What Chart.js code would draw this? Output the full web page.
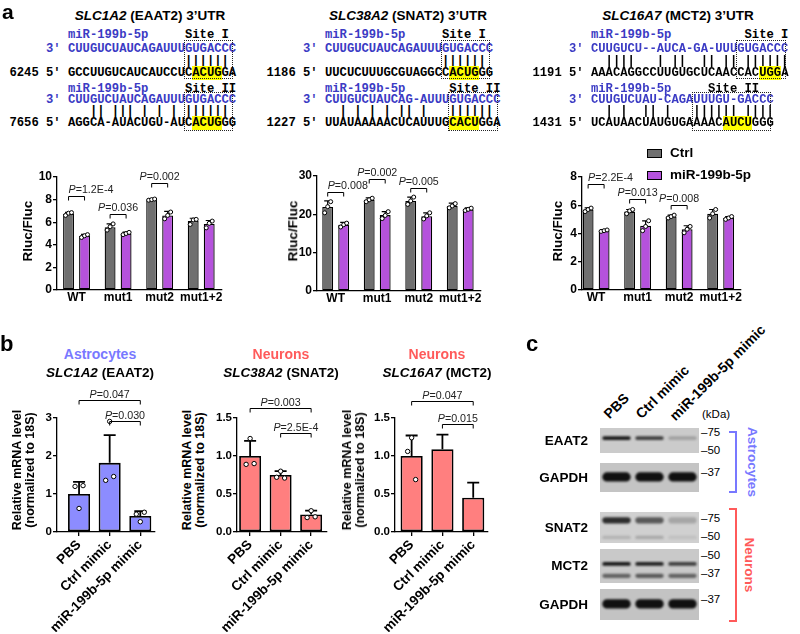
<!DOCTYPE html>
<html>
<head>
<meta charset="utf-8">
<script src="https://cdn.jsdelivr.net/npm/chart.js@4.4.0/dist/chart.umd.min.js"></script>
<style>
body { margin: 0; background: #fff; }
#page { position: relative; width: 800px; height: 634px; overflow: hidden; font-family: "Liberation Sans", Arial, sans-serif; color: #000; }
.t { position: absolute; white-space: nowrap; line-height: 1; }
.seq { position: absolute; white-space: pre; font-family: "Liberation Mono", monospace; font-size: 12.2px; font-weight: bold; line-height: 12px; }
.blue { color: #3b3bc4; }
.hl { background: #ffff00; }
.box { position: absolute; border: 1px dotted #222; box-sizing: border-box; }
canvas { position: absolute; }
</style>
</head>
<body>
<div id="page"></div>
<script>
// ---- données panneau a : luciférase Rluc/Fluc ----
const LUC_GROUPS = ['WT', 'mut1', 'mut2', 'mut1+2'];
const LUC_SERIES = ['Ctrl', 'miR-199b-5p'];

const EAAT2_CTRL = [6.75, 5.55, 8.0, 6.1];
const EAAT2_CTRL_SD = [0.12, 0.3, 0.08, 0.25];
const EAAT2_CTRL_DOTS = [[6.6, 6.8, 6.85], [5.3, 5.6, 5.85], [7.95, 8.0, 8.05], [5.8, 6.2, 6.25]];
const EAAT2_MIR = [4.8, 5.0, 6.6, 5.85];
const EAAT2_MIR_SD = [0.12, 0.12, 0.35, 0.3];
const EAAT2_MIR_DOTS = [[4.65, 4.8, 4.9], [4.9, 5.0, 5.1], [6.3, 6.6, 6.9], [5.5, 5.9, 6.1]];
const EAAT2_P = [['1.2E-4', 0, 8.3], ['0.036', 1, 6.7], ['0.002', 2, 9.47]];

const SNAT2_CTRL = [21.9, 23.8, 23.5, 22.2];
const SNAT2_CTRL_SD = [1.6, 0.5, 1.0, 0.7];
const SNAT2_CTRL_DOTS = [[20.4, 22.0, 23.3], [23.3, 23.8, 24.2], [22.6, 23.5, 24.5], [21.7, 22.2, 22.8]];
const SNAT2_MIR = [17.3, 19.8, 19.5, 21.3];
const SNAT2_MIR_SD = [0.6, 0.9, 0.9, 0.4];
const SNAT2_MIR_DOTS = [[16.7, 17.3, 17.7], [18.9, 19.7, 20.7], [18.8, 19.6, 20.4], [21.0, 21.3, 21.6]];
const SNAT2_P = [['0.008', 0, 25.8], ['0.002', 1, 29.3], ['0.005', 2, 26.9]];

const MCT2_CTRL = [5.7, 5.55, 5.2, 5.4];
const MCT2_CTRL_SD = [0.12, 0.15, 0.1, 0.3];
const MCT2_CTRL_DOTS = [[5.55, 5.7, 5.8], [5.4, 5.6, 5.7], [5.1, 5.2, 5.3], [5.1, 5.4, 5.7]];
const MCT2_MIR = [4.2, 4.55, 4.3, 5.1];
const MCT2_MIR_SD = [0.08, 0.35, 0.25, 0.1];
const MCT2_MIR_DOTS = [[4.15, 4.2, 4.25], [4.2, 4.5, 4.9], [4.05, 4.3, 4.5], [5.0, 5.1, 5.2]];
const MCT2_P = [['2.2E-4', 0, 7.53], ['0.013', 1, 6.47], ['0.008', 2, 6.0]];

// ---- données panneau b : qPCR ----
const QPCR_GROUPS = ['PBS', 'Ctrl mimic', 'miR-199b-5p mimic'];
const Q_EAAT2 = [1.0, 1.82, 0.42];
const Q_EAAT2_SD = [0.32, 0.73, 0.13];
const Q_EAAT2_DOTS = [[0.62, 1.2, 1.22], [2.91, 1.36, 1.46], [0.27, 0.47, 0.52]];
const Q_EAAT2_P = [['0.047', 0, 2, 3.48], ['0.030', 1, 2, 2.91]];
const Q_SNAT2 = [1.0, 0.75, 0.23];
const Q_SNAT2_SD = [0.2, 0.05, 0.05];
const Q_SNAT2_DOTS = [[1.23, 0.89, 0.9], [0.8, 0.72, 0.71], [0.28, 0.19, 0.2]];
const Q_SNAT2_P = [['0.003', 0, 2, 1.627], ['2.5E-4', 1, 2, 1.3]];
const Q_MCT2 = [1.0, 1.09, 0.45];
const Q_MCT2_SD = [0.27, 0.19, 0.2];
const Q_MCT2_DOTS = [[1.24, 1.06, 0.69], [], []];
const Q_MCT2_P = [['0.047', 0, 2, 1.72], ['0.015', 1, 2, 1.427]];

// ---- panneau c : western blot (position verticale en fraction de la bande, intensité par piste) ----
const BLOT_LANES = ['PBS', 'Ctrl mimic', 'miR-199b-5p mimic'];
const BLOT_EAAT2 = [[0.4, 0.15, [0.95, 0.75, 0.22]]];
const BLOT_GAPDH_A = [[0.48, 0.32, [1, 1, 1]]];
const BLOT_SNAT2 = [[0.27, 0.2, [0.85, 0.62, 0.22]], [0.82, 0.1, [0.15, 0.2, 0.08]]];
const BLOT_MCT2 = [[0.44, 0.11, [0.95, 0.9, 0.75]], [0.79, 0.12, [0.55, 0.6, 0.55]]];
const BLOT_GAPDH_N = [[0.48, 0.3, [1, 1, 1]]];

// ---- séquences (panneau a, en haut) ----
const SEQ_GENES = [
  { gene: 'SLC1A2', prot: 'EAAT2', left: 68, titleX: 150, sites: [
    { name: 'Site I', nameAt: 16, pos: '6245', mir: 'CUUGUCUAUCAGAUUUGUGACCC', pairs: '                ||||||', target: 'GCCUUGUCAUCAUCCUCACUGGA', seed: [17, 21], box: [16, 22] },
    { name: 'Site II', nameAt: 16, pos: '7656', mir: 'CUUGUCUAUCAGAUUUGUGACCC', pairs: '   || ||| | | | ||||||', target: 'AGGCA-AUACUGU-AUCACUGGG', seed: [17, 21], box: [16, 22] } ] },
  { gene: 'SLC38A2', prot: 'SNAT2', left: 325, titleX: 408, sites: [
    { name: 'Site I', nameAt: 16, pos: '1186', mir: 'CUUGUCUAUCAGAUUUGUGACCC', pairs: '                ||||||', target: 'UUCUCUUUGCGUAGGCCACUGGG', seed: [17, 21], box: [16, 22] },
    { name: 'Site II', nameAt: 17, pos: '1227', mir: 'CUUGUCUAUCAG-AUUUGUGACCC', pairs: '  | | | | || |   ||||||', target: 'UUAUAAAAACUCAUUUGCACUGGA', seed: [17, 21], box: [17, 23] } ] },
  { gene: 'SLC16A7', prot: 'MCT2', left: 591, titleX: 678, sites: [
    { name: 'Site I', nameAt: 21, pos: '1191', mir: 'CUUGUCU--AUCA-GA-UUUGUGACCC', pairs: '  ||||   | ||  || || ||||||', target: 'AAACAGGCCUUGUGCUCAACCACUGGA', seed: [23, 26], box: [20, 26] },
    { name: 'Site II', nameAt: 16, pos: '1431', mir: 'CUUGUCUAU-CAGAUUUGU-GACCC', pairs: '  | |  || |   |||||| ||||', target: 'UCAUAACUAUGUGAAAACAUCUGGG', seed: [18, 22], box: [14, 24] } ] }
];

const GRAY = '#6f6f6f';
const PURPLE = '#b552dc';
const ASTRO = '#8c8cff';
const NEURON = '#ff7f7f';
const ASTRO_TXT = '#7878ff';
const NEURON_TXT = '#ff5a5a';

const page = document.getElementById('page');
Chart.defaults.font.family = '"Liberation Sans", Arial, sans-serif';
Chart.defaults.color = '#000';

function txt(html, x, y, o = {}) {
  const d = document.createElement('div');
  d.className = 't';
  d.innerHTML = html;
  d.style.left = x + 'px';
  d.style.top = y + 'px';
  d.style.fontSize = (o.size || 13) + 'px';
  d.style.fontWeight = o.weight || 'bold';
  if (o.color) d.style.color = o.color;
  const tx = o.anchor === 'l' ? '0' : o.anchor === 'r' ? '-100%' : '-50%';
  d.style.transform = `translate(${tx},-50%)` + (o.rot ? ` rotate(${o.rot}deg)` : '');
  if (o.align) d.style.textAlign = o.align;
  if (o.lh) d.style.lineHeight = o.lh;
  page.appendChild(d);
  return d;
}

function makeCanvas(left, top, w, h) {
  const c = document.createElement('canvas');
  c.width = w; c.height = h;
  c.style.left = left + 'px'; c.style.top = top + 'px';
  c.style.width = w + 'px'; c.style.height = h + 'px';
  page.appendChild(c);
  return c;
}

// barres d'erreur, points individuels et crochets de P
const marksPlugin = {
  id: 'marks',
  afterDraw(chart, args, opts) {
    const ctx = chart.ctx, ys = chart.scales.y;
    ctx.save();
    chart.data.datasets.forEach((ds, di) => {
      chart.getDatasetMeta(di).data.forEach((bar, i) => {
        const mean = ds.data[i].y;
        const yTop = ys.getPixelForValue(mean + ds.sd[i]);
        const yMean = ys.getPixelForValue(mean);
        ctx.strokeStyle = '#000';
        ctx.lineWidth = opts.errWidth;
        ctx.beginPath();
        ctx.moveTo(bar.x, yMean); ctx.lineTo(bar.x, yTop);
        ctx.moveTo(bar.x - opts.cap, yTop); ctx.lineTo(bar.x + opts.cap, yTop);
        ctx.stroke();
        (ds.dots[i] || []).forEach((v, k) => {
          ctx.beginPath();
          ctx.arc(bar.x + opts.jitter[k % opts.jitter.length], ys.getPixelForValue(v), opts.r, 0, Math.PI * 2);
          ctx.fillStyle = '#fff'; ctx.fill();
          ctx.lineWidth = 1; ctx.stroke();
        });
      });
    });
    (opts.brackets || []).forEach(b => {
      const x0 = chart.getDatasetMeta(b.a[0]).data[b.a[1]].x - opts.spread;
      const x1 = chart.getDatasetMeta(b.b[0]).data[b.b[1]].x + opts.spread;
      const y = Math.round(ys.getPixelForValue(b.y)) + 0.5;
      ctx.strokeStyle = '#000'; ctx.lineWidth = 1;
      ctx.beginPath();
      ctx.moveTo(x0, y + opts.drop); ctx.lineTo(x0, y); ctx.lineTo(x1, y); ctx.lineTo(x1, y + opts.drop);
      ctx.stroke();
      const fi = 'italic 11.5px "Liberation Sans"', fn = '11.5px "Liberation Sans"';
      ctx.font = fi; const wP = ctx.measureText('P').width;
      ctx.font = fn; const wR = ctx.measureText('=' + b.p).width;
      const total = (wP + wR) * opts.squeeze;
      const sx = b.left ? x0 : (x0 + x1) / 2 - total / 2;
      ctx.save();
      ctx.translate(sx, y - opts.lift);
      ctx.scale(opts.squeeze, 1);
      ctx.fillStyle = '#222';
      ctx.font = fi; ctx.fillText('P', 0, 0);
      ctx.font = fn; ctx.fillText('=' + b.p, wP, 0);
      ctx.restore();
    });
    ctx.restore();
  }
};

function axisX(labels, xmin, xmax, xh, tickFont, rotated, drawTicks) {
  return {
    type: 'linear', min: xmin, max: xmax, offset: false,
    border: { color: '#000', width: 1.3 },
    grid: { offset: false, drawOnChartArea: false, drawTicks: drawTicks, tickLength: 4, color: '#000', lineWidth: 1.3 },
    afterBuildTicks: s => { s.ticks = labels.map((l, i) => ({ value: i })); },
    afterFit: s => { s.height = xh; },
    ticks: {
      autoSkip: false, padding: rotated ? 1 : 0, font: tickFont, color: '#000',
      minRotation: rotated ? 45 : 0, maxRotation: rotated ? 45 : 0,
      callback: v => labels[v]
    }
  };
}

function axisY(ymax, step, yw, tickFont, decimals) {
  return {
    min: 0, max: ymax,
    border: { color: '#000', width: 1.3 },
    grid: { drawOnChartArea: false, tickLength: 4, color: '#000', lineWidth: 1.3 },
    afterFit: s => { s.width = yw; },
    ticks: { stepSize: step, padding: 1, font: tickFont, color: '#000',
      callback: v => decimals ? v.toFixed(decimals) : v }
  };
}

// ---- panneau a : graphiques luciférase ----
const LUC_LAYOUT = [
  { left: 17, areaTop: 177, areaBottom: 290, right: 222, xmin: -0.47, xmax: 3.5, ymax: 10, step: 2,
    ctrl: EAAT2_CTRL, ctrlSd: EAAT2_CTRL_SD, ctrlDots: EAAT2_CTRL_DOTS, mir: EAAT2_MIR, mirSd: EAAT2_MIR_SD, mirDots: EAAT2_MIR_DOTS, p: EAAT2_P, titleX: 28 },
  { left: 277, areaTop: 176, areaBottom: 291, right: 481, xmin: -0.45, xmax: 3.5, ymax: 30, step: 10,
    ctrl: SNAT2_CTRL, ctrlSd: SNAT2_CTRL_SD, ctrlDots: SNAT2_CTRL_DOTS, mir: SNAT2_MIR, mirSd: SNAT2_MIR_SD, mirDots: SNAT2_MIR_DOTS, p: SNAT2_P, titleX: 293 },
  { left: 542, areaTop: 177, areaBottom: 290, right: 741, xmin: -0.34, xmax: 3.49, ymax: 8, step: 2,
    ctrl: MCT2_CTRL, ctrlSd: MCT2_CTRL_SD, ctrlDots: MCT2_CTRL_DOTS, mir: MCT2_MIR, mirSd: MCT2_MIR_SD, mirDots: MCT2_MIR_DOTS, p: MCT2_P, titleX: 558 }
];

LUC_LAYOUT.forEach(L => {
  const padTop = 22, padRight = 12, yw = 40, xh = 20;
  const top = L.areaTop - padTop;
  const c = makeCanvas(L.left, top, L.right - L.left + padRight, L.areaBottom - top + xh);
  const tickFont = { size: 12, weight: 'bold' };
  new Chart(c, {
    type: 'bar',
    data: { datasets: [
      { label: LUC_SERIES[0], data: L.ctrl.map((v, i) => ({ x: i, y: v })), sd: L.ctrlSd, dots: L.ctrlDots,
        backgroundColor: GRAY, borderColor: '#000', borderWidth: 1.3, borderSkipped: false },
      { label: LUC_SERIES[1], data: L.mir.map((v, i) => ({ x: i, y: v })), sd: L.mirSd, dots: L.mirDots,
        backgroundColor: PURPLE, borderColor: '#000', borderWidth: 1.3, borderSkipped: false }
    ] },
    options: {
      responsive: false, animation: false, events: [],
      categoryPercentage: 0.77, barPercentage: 0.68,
      layout: { padding: { top: padTop, right: padRight, left: 0, bottom: 0 } },
      plugins: {
        legend: { display: false }, tooltip: { enabled: false },
        marks: { errWidth: 1.2, cap: 3.5, r: 2, jitter: [-3, 0, 3], drop: 4, lift: 4, squeeze: 0.93, spread: 0,
          brackets: L.p.map(([p, g, y]) => ({ p, y, a: [0, g], b: [1, g], left: g === 0 })) }
      },
      scales: {
        x: axisX(LUC_GROUPS, L.xmin, L.xmax, xh, tickFont, false, false),
        y: axisY(L.ymax, L.step, yw, tickFont, 0)
      }
    },
    plugins: [marksPlugin]
  });
  txt('Rluc/Fluc', L.titleX, 231, { size: 13.5, rot: -90 });
});

// légende
[[GRAY, LUC_SERIES[0], 153], [PURPLE, LUC_SERIES[1], 175]].forEach(([col, lab, y]) => {
  const b = document.createElement('div');
  b.style.cssText = `position:absolute;left:647px;top:${y - 4.5}px;width:15px;height:9px;background:${col};border:1.3px solid #000;box-sizing:border-box;`;
  page.appendChild(b);
  txt(lab, 670, y, { size: 13.5, anchor: 'l' });
});

// ---- panneau b : graphiques qPCR ----
const QPCR_LAYOUT = [
  { left: 27, right: 155, xmin: -0.72, xmax: 2.48, ymax: 3, step: 1, dec: 0, color: ASTRO,
    vals: Q_EAAT2, sd: Q_EAAT2_SD, dots: Q_EAAT2_DOTS, p: Q_EAAT2_P,
    head: ['Astrocytes', ASTRO_TXT], title: '<i>SLC1A2</i> (EAAT2)', cx: 100, yt: 24 },
  { left: 207, right: 327, xmin: -0.43, xmax: 2.52, ymax: 1.5, step: 0.5, dec: 1, color: NEURON,
    vals: Q_SNAT2, sd: Q_SNAT2_SD, dots: Q_SNAT2_DOTS, p: Q_SNAT2_P,
    head: ['Neurons', NEURON_TXT], title: '<i>SLC38A2</i> (SNAT2)', cx: 281, yt: 194 },
  { left: 365, right: 488, xmin: -0.54, xmax: 2.48, ymax: 1.5, step: 0.5, dec: 1, color: NEURON,
    vals: Q_MCT2, sd: Q_MCT2_SD, dots: Q_MCT2_DOTS, p: Q_MCT2_P,
    head: ['Neurons', NEURON_TXT], title: '<i>SLC16A7</i> (MCT2)', cx: 437, yt: 354 }
];

QPCR_LAYOUT.forEach(L => {
  const areaTop = 418, areaBottom = 532, padTop = 45, padRight = 12, yw = 30, xh = 100;
  const top = areaTop - padTop;
  const c = makeCanvas(L.left, top, L.right - L.left + padRight, areaBottom - top + xh);
  const tickFont = { size: 11.5, weight: 'bold' };
  new Chart(c, {
    type: 'bar',
    data: { datasets: [
      { label: 'mRNA', data: L.vals.map((v, i) => ({ x: i, y: v })), sd: L.sd, dots: L.dots,
        backgroundColor: L.color, borderColor: '#000', borderWidth: 1.8, borderSkipped: false }
    ] },
    options: {
      responsive: false, animation: false, events: [],
      categoryPercentage: 0.8, barPercentage: 0.9,
      layout: { padding: { top: padTop, right: padRight, left: 0, bottom: 0 } },
      plugins: {
        legend: { display: false }, tooltip: { enabled: false },
        marks: { errWidth: 1.8, cap: 6, r: 2.2, jitter: [0, -4, 4], drop: 4, lift: 3, squeeze: 0.93, spread: 0,
          brackets: L.p.map(([p, a, b, y]) => ({ p, y, a: [0, a], b: [0, b], left: false })) }
      },
      scales: {
        x: axisX(QPCR_GROUPS, L.xmin, L.xmax, xh, { size: 13.5, weight: 'bold' }, true, true),
        y: axisY(L.ymax, L.step, yw, tickFont, L.dec)
      }
    },
    plugins: [marksPlugin]
  });
  txt(L.head[0], L.cx, 354, { size: 14, color: L.head[1] });
  txt(L.title, L.cx, 373, { size: 13.5 });
  txt('Relative mRNA level<br>(normalized to 18S)', L.yt, 470, { size: 12.5, rot: -90, align: 'center', lh: '13px' });
});

// ---- panneau c : western blot ----
const membranePlugin = {
  id: 'membrane',
  beforeDatasetsDraw(chart, args, opts) {
    const { ctx, chartArea: a } = chart;
    ctx.fillStyle = opts.color;
    ctx.fillRect(a.left, a.top, a.width, a.height);
    ctx.save();
    ctx.filter = `blur(${opts.blur}px)`;
  },
  afterDatasetsDraw(chart) { chart.ctx.restore(); }
};

const BLOT_LAYOUT = [
  { name: 'EAAT2', top: 428, h: 25, bands: BLOT_EAAT2, bg: '#cbcbcb', kda: [['75', 433], ['50', 451]] },
  { name: 'GAPDH', top: 463, h: 29, bands: BLOT_GAPDH_A, bg: '#c4c4c4', kda: [['37', 473]] },
  { name: 'SNAT2', top: 512, h: 31, bands: BLOT_SNAT2, bg: '#d0d0d0', kda: [['75', 519], ['50', 537]] },
  { name: 'MCT2', top: 549, h: 34, bands: BLOT_MCT2, bg: '#c9c9c9', kda: [['50', 556], ['37', 574]] },
  { name: 'GAPDH', top: 589, h: 31, bands: BLOT_GAPDH_N, bg: '#c3c3c3', kda: [['37', 600]] }
];

BLOT_LAYOUT.forEach(B => {
  const c = makeCanvas(600, B.top, 99, B.h);
  new Chart(c, {
    type: 'bar',
    data: { datasets: B.bands.map(([y, h, lv]) => ({
      data: lv.map((v, i) => ({ x: i, y: [y - h / 2, y + h / 2] })),
      backgroundColor: lv.map(v => `rgba(16,16,16,${v})`),
      grouped: false, borderWidth: 0, borderRadius: 5, borderSkipped: false,
      categoryPercentage: 1, barPercentage: 0.86
    })) },
    options: {
      responsive: false, animation: false, events: [],
      layout: { padding: 0 },
      plugins: { legend: { display: false }, tooltip: { enabled: false }, membrane: { color: B.bg, blur: 1.1 } },
      scales: {
        x: { type: 'linear', display: false, min: -0.5, max: 2.5, offset: false,
          afterBuildTicks: s => { s.ticks = BLOT_LANES.map((l, i) => ({ value: i })); } },
        y: { display: false, min: 0, max: 1, reverse: true }
      }
    },
    plugins: [membranePlugin]
  });
  txt(B.name, 588, B.top + B.h / 2, { size: 13.5, anchor: 'r' });
  B.kda.forEach(([k, y]) => txt('–' + k, 701, y, { size: 11.5, weight: 'normal', anchor: 'l' }));
});

// étiquettes des pistes (inclinées)
[[BLOT_LANES[0], 611, 421], [BLOT_LANES[1], 643, 421], [BLOT_LANES[2], 677, 423]].forEach(([s, x, y]) => {
  const d = document.createElement('div');
  d.className = 't';
  d.textContent = s;
  d.style.cssText += `left:${x}px;top:${y}px;font-size:14px;font-weight:bold;transform-origin:0 100%;transform:translateY(-100%) rotate(-45deg);`;
  page.appendChild(d);
});
txt('(kDa)', 702, 415, { size: 11.5, weight: 'normal', anchor: 'l' });

// accolades Astrocytes / Neurons
[[ASTRO_TXT, 431, 493, 'Astrocytes', 752], [NEURON_TXT, 508, 622, 'Neurons', 749]].forEach(([col, y0, y1, lab, lx]) => {
  const d = document.createElement('div');
  d.style.cssText = `position:absolute;left:729px;top:${y0}px;width:8px;height:${y1 - y0}px;border:2px solid ${col};border-left:none;box-sizing:border-box;`;
  page.appendChild(d);
  txt(lab, lx, (y0 + y1) / 2, { size: 13.5, color: col, rot: 90 });
});

// ---- séquences ----
const CW = 7.32;
const ROWS = [[35, 48.5, 60.5, 72.5], [88.5, 100, 111, 122.5]];
const BOXES = [[40, 79], [92, 131]];

function seqLine(x, y, html) {
  const d = document.createElement('div');
  d.className = 'seq';
  d.style.left = x + 'px';
  d.style.top = (y - 6) + 'px';
  d.innerHTML = html;
  page.appendChild(d);
}

SEQ_GENES.forEach(G => {
  txt(`<i>${G.gene}</i> (${G.prot}) 3’UTR`, G.titleX, 16, { size: 13.5 });
  const x0 = G.left - 8 * CW;
  G.sites.forEach((S, si) => {
    const r = ROWS[si];
    seqLine(x0, r[0], '        <span class="blue">miR-199b-5p</span>' + ' '.repeat(S.nameAt - 11) + S.name);
    seqLine(x0, r[1], '     <span class="blue">3\' ' + S.mir + '</span>');
    seqLine(x0, r[2], '        ' + S.pairs);
    const t = S.target;
    seqLine(x0, r[3], S.pos + ' 5\' ' + t.slice(0, S.seed[0]) + '<span class="hl">' + t.slice(S.seed[0], S.seed[1]) + '</span>' + t.slice(S.seed[1]));
    const bx = document.createElement('div');
    bx.className = 'box';
    const bl = G.left + S.box[0] * CW - 1;
    bx.style.left = bl + 'px';
    bx.style.width = (G.left + (S.box[1] + 0.6) * CW - bl) + 'px';
    bx.style.top = BOXES[si][0] + 'px';
    bx.style.height = (BOXES[si][1] - BOXES[si][0]) + 'px';
    page.appendChild(bx);
  });
});

// lettres des panneaux
txt('a', 2, 11, { size: 21, anchor: 'l' });
txt('b', 0, 344, { size: 22, anchor: 'l' });
txt('c', 526, 344, { size: 22, anchor: 'l' });
</script>
</body>
</html>
